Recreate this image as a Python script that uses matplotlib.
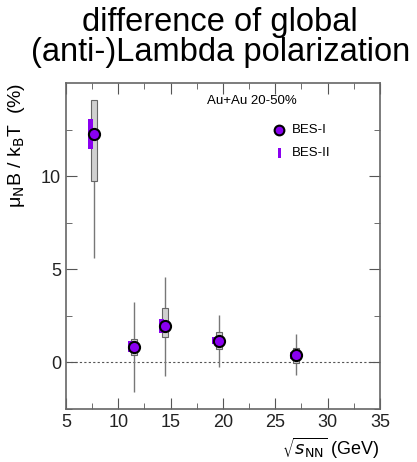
import matplotlib.pyplot as plt
from matplotlib.patches import Rectangle

plt.rcParams["font.family"] = ["Liberation Sans", "DejaVu Sans"]

# BES-I points
energy = [7.7, 11.5, 14.5, 19.6, 27.0]
value = [12.25, 0.83, 1.93, 1.13, 0.39]
stat_lo = [5.58, -1.61, -0.73, -0.25, -0.69]
stat_hi = [14.1, 3.26, 4.56, 2.55, 1.54]
sys_lo = [9.73, 0.37, 1.37, 0.73, -0.02]
sys_hi = [14.1, 1.26, 2.91, 1.61, 0.78]

# BES-II systematic bands (drawn offset to the left)
bes2_lo = [11.45, 0.55, 1.58, 0.96, 0.20]
bes2_hi = [13.10, 1.13, 2.32, 1.37, 0.55]

purple = "#8a00f0"

fig = plt.figure(figsize=(4.17, 4.62), dpi=100)
ax = fig.add_axes([0.158, 0.115, 0.753, 0.705])

ax.axhline(0, color="#555555", lw=0.8, ls=(0, (2, 2)), zorder=1)

box_w = 0.55
for i, e in enumerate(energy):
    ax.vlines(e, stat_lo[i], stat_hi[i], color="#777777", lw=1.0, zorder=2)
    ax.add_patch(Rectangle((e - box_w / 2, sys_lo[i]), box_w, sys_hi[i] - sys_lo[i],
                           facecolor="#d0d0d0", edgecolor="#666666", lw=0.8, zorder=3))
    ax.add_patch(Rectangle((e - 0.6, bes2_lo[i]), 0.5, bes2_hi[i] - bes2_lo[i],
                           facecolor=purple, edgecolor="none", zorder=4))

ax.plot(energy, value, "o", ms=8, mfc=purple, mec="black", mew=1.5, zorder=5)

ax.set_xlim(5, 35)
ax.set_ylim(-2.5, 15)
ax.set_xticks([5, 10, 15, 20, 25, 30, 35])
ax.set_yticks([0, 5, 10])
ax.set_xticks([7.5, 12.5, 17.5, 22.5, 27.5, 32.5], minor=True)
ax.set_yticks([-2.5, 2.5, 7.5, 12.5], minor=True)
ax.tick_params(which="both", direction="in", top=True, right=True, colors="#555555",
               labelcolor="#222222", labelsize=13)
ax.tick_params(which="major", length=8)
ax.tick_params(which="minor", length=4)
for s in ax.spines.values():
    s.set_color("#666666")
    s.set_linewidth(1.2)

ax.set_ylabel("μ$_{\\mathrm{N}}$B / k$_{\\mathrm{B}}$T  (%)", fontsize=14, loc="top",
              labelpad=10)
fig.text(0.911, 0.056, r"$\sqrt{s_{\mathrm{NN}}}$ (GeV)", ha="right", va="top", fontsize=13)

fig.text(0.528, 0.985, "difference of global\n(anti-)Lambda polarization",
         ha="center", va="top", fontsize=23.5, linespacing=0.98)

# in-plot legend
ax.text(0.45, 0.945, "Au+Au 20-50%", transform=ax.transAxes, fontsize=9.5, va="center")
ax.plot([0.68], [0.856], "o", ms=7, mfc=purple, mec="black", mew=1.5, transform=ax.transAxes)
ax.text(0.72, 0.856, "BES-I", transform=ax.transAxes, fontsize=9.5, va="center")
ax.add_patch(Rectangle((0.674, 0.77), 0.012, 0.03, facecolor=purple, edgecolor="none",
                       transform=ax.transAxes))
ax.text(0.72, 0.785, "BES-II", transform=ax.transAxes, fontsize=9.5, va="center")

fig.savefig("out.png", dpi=100)
